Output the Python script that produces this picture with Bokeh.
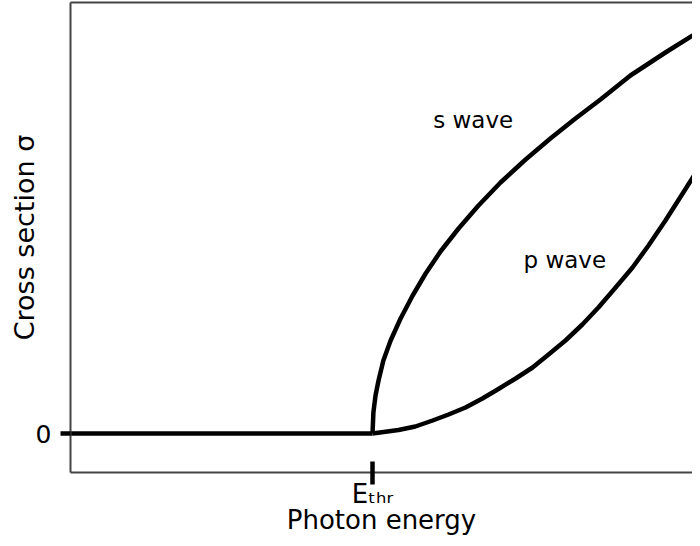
from bokeh.plotting import figure
from bokeh.models import LinearAxis, FixedTicker, Label, Range1d
from bokeh.embed import file_html
from bokeh.resources import INLINE

# Photon energy (E_thr = 1) and cross section (arbitrary units)
below_E = [0.0, 1.0]
below_sigma = [0.0, 0.0]

s_E = [1.0, 1.003, 1.010, 1.020, 1.036, 1.060, 1.093, 1.133, 1.176, 1.225,
       1.285, 1.351, 1.424, 1.507, 1.589, 1.672, 1.755, 1.854, 1.970, 2.086]
s_sigma = [0.0, 0.21, 0.38, 0.53, 0.73, 0.93, 1.15, 1.38, 1.60, 1.82,
           2.05, 2.28, 2.51, 2.74, 2.95, 3.15, 3.34, 3.58, 3.81, 4.03]

p_E = [1.0, 1.086, 1.142, 1.199, 1.252, 1.308, 1.364, 1.417, 1.474, 1.530,
       1.583, 1.639, 1.695, 1.748, 1.805, 1.861, 1.914, 1.970, 2.027, 2.086]
p_sigma = [0.0, 0.035, 0.07, 0.13, 0.19, 0.26, 0.35, 0.445, 0.55, 0.66,
           0.79, 0.93, 1.09, 1.26, 1.46, 1.66, 1.88, 2.13, 2.40, 2.68]

x_ticks = [1.0]
x_tick_labels = {1: "Eₜₕᵣ"}
y_ticks = [0]
y_tick_labels = {0: "0"}
x_label = "Photon energy"
y_label = "Cross section σ"

FONT = "DejaVu Sans"
AXIS_COLOR = "#444444"
LW = 4.5

p = figure(width=692, height=538, output_backend="svg", toolbar_location=None,
           x_range=Range1d(0, 2.0596), y_range=Range1d(-0.39, 4.31),
           x_axis_location=None, y_axis_location=None,
           min_border_left=70, min_border_right=0, min_border_top=2,
           min_border_bottom=66)
p.outline_line_color = None
p.grid.visible = False
p.background_fill_color = "white"
p.border_fill_color = "white"

xaxis = LinearAxis(ticker=FixedTicker(ticks=x_ticks), major_label_overrides=x_tick_labels,
                   axis_label=x_label)
xaxis.axis_line_color = AXIS_COLOR
xaxis.axis_line_width = 2
xaxis.major_tick_line_color = "black"
xaxis.major_tick_line_width = LW
xaxis.major_tick_in = 11
xaxis.major_tick_out = 12
xaxis.minor_tick_line_color = None
xaxis.major_label_standoff = -6
xaxis.major_label_text_font = FONT
xaxis.major_label_text_font_size = "26px"
xaxis.major_label_text_color = "black"
xaxis.axis_label_standoff = -7
xaxis.axis_label_text_font = FONT
xaxis.axis_label_text_font_size = "26px"
xaxis.axis_label_text_font_style = "normal"
xaxis.axis_label_text_color = "black"
p.add_layout(xaxis, "below")

yaxis = LinearAxis(ticker=FixedTicker(ticks=y_ticks), major_label_overrides=y_tick_labels,
                   axis_label=y_label)
yaxis.axis_line_color = AXIS_COLOR
yaxis.axis_line_width = 2
yaxis.major_tick_line_color = "black"
yaxis.major_tick_line_width = LW
yaxis.major_tick_in = 0
yaxis.major_tick_out = 10
yaxis.minor_tick_line_color = None
yaxis.major_label_standoff = 9
yaxis.major_label_text_font = FONT
yaxis.major_label_text_font_size = "25px"
yaxis.major_label_text_color = "black"
yaxis.axis_label_standoff = -7
yaxis.axis_label_text_font = FONT
yaxis.axis_label_text_font_size = "27px"
yaxis.axis_label_text_font_style = "normal"
yaxis.axis_label_text_color = "black"
p.add_layout(yaxis, "left")

top = LinearAxis(ticker=FixedTicker(ticks=[]))
top.axis_line_color = AXIS_COLOR
top.axis_line_width = 2
top.major_tick_line_color = None
top.minor_tick_line_color = None
top.major_label_text_font_size = "0px"
top.major_label_standoff = 0
p.add_layout(top, "above")

p.line(below_E, below_sigma, line_color="black", line_width=LW)
p.line(s_E, s_sigma, line_color="black", line_width=LW, line_join="round")
p.line(p_E, p_sigma, line_color="black", line_width=LW, line_join="round")

p.add_layout(Label(x=1.201, y=3.14, text="s wave", text_font=FONT,
                   text_font_size="23px", text_color="black",
                   text_baseline="alphabetic", text_align="left"))
p.add_layout(Label(x=1.50, y=1.74, text="p wave", text_font=FONT,
                   text_font_size="23px", text_color="black",
                   text_baseline="alphabetic", text_align="left"))

open("out.html", "w").write(file_html(p, INLINE))
